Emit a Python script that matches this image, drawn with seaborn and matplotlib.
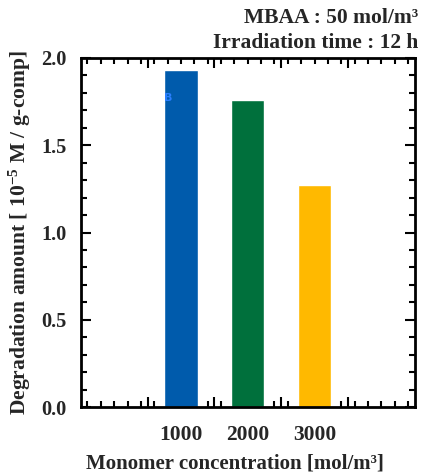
import matplotlib
matplotlib.use("Agg")
import matplotlib.pyplot as plt
import numpy as np
import pandas as pd
import seaborn as sns
from matplotlib.ticker import FixedLocator, MultipleLocator

concentrations = ["1000", "2000", "3000"]
degradation = [1.93, 1.76, 1.27]
bar_colors = ["#005BAC", "#00703C", "#FFB900"]

df = pd.DataFrame({"conc": concentrations, "amount": degradation})

sns.set_theme(style="ticks")
plt.rcParams["font.family"] = ["Liberation Serif", "DejaVu Serif"]
plt.rcParams["font.weight"] = "bold"
plt.rcParams["mathtext.fontset"] = "custom"
plt.rcParams["mathtext.rm"] = "Liberation Serif:bold"
plt.rcParams["mathtext.it"] = "Liberation Serif:bold"
plt.rcParams["mathtext.bf"] = "Liberation Serif:bold"

fig = plt.figure(figsize=(4.25, 4.75), dpi=100)
ax = fig.add_axes([0.19, 0.143, 0.786, 0.735])

sns.barplot(data=df, x="conc", y="amount", hue="conc", palette=bar_colors,
            width=0.5, legend=False, saturation=1, ax=ax)

ax.set_xlim(-1.5, 3.5)
ax.set_ylim(0, 2.0)

# tick marks (unlabelled) on all sides, labels via secondary axis
ax.xaxis.set_major_locator(FixedLocator([-0.5, 0.5, 1.5, 2.5]))
ax.xaxis.set_minor_locator(MultipleLocator(0.2))
ax.set_xticklabels([])
ax.yaxis.set_major_locator(MultipleLocator(0.5))
ax.yaxis.set_minor_locator(MultipleLocator(0.1))
ax.yaxis.set_major_formatter(matplotlib.ticker.FormatStrFormatter("%.1f"))
ax.tick_params(which="both", direction="in", top=True, right=True, width=1.5, color="black")
ax.tick_params(which="major", length=7)
ax.tick_params(which="minor", length=4)
ax.tick_params(axis="y", which="major", labelsize=14.7, pad=10)
for lab in ax.get_yticklabels():
    lab.set_fontweight("bold")

sec = ax.secondary_xaxis("bottom")
sec.set_xticks(range(len(concentrations)), concentrations)
sec.tick_params(length=0, labelsize=15.5, pad=13)
for lab in sec.get_xticklabels():
    lab.set_fontweight("bold")
sec.spines["bottom"].set_visible(False)

for spine in ax.spines.values():
    spine.set_visible(True)
    spine.set_color("black")
    spine.set_linewidth(2)

ax.set_xlabel("")
ax.set_ylabel("Degradation amount [ 10$^{-5}$ M / g-comp]", fontsize=15.5,
              fontweight="bold", labelpad=6)
fig.text(0.553, 0.004, "Monomer concentration [mol/m³]", ha="center", va="bottom",
         fontsize=15, fontweight="bold")

fig.text(0.985, 0.983, "MBAA : 50 mol/m³", ha="right", va="top",
         fontsize=15.5, fontweight="bold")
fig.text(0.985, 0.93, "Irradiation time : 12 h", ha="right", va="top",
         fontsize=15.5, fontweight="bold")

# small stray label inside the first bar, as in the source image
ax.text(-0.25, 1.77, "B", color="#2A7FFF", fontsize=8, ha="left", va="center",
        family="DejaVu Sans")

fig.savefig("out.png", dpi=100, facecolor="white")
